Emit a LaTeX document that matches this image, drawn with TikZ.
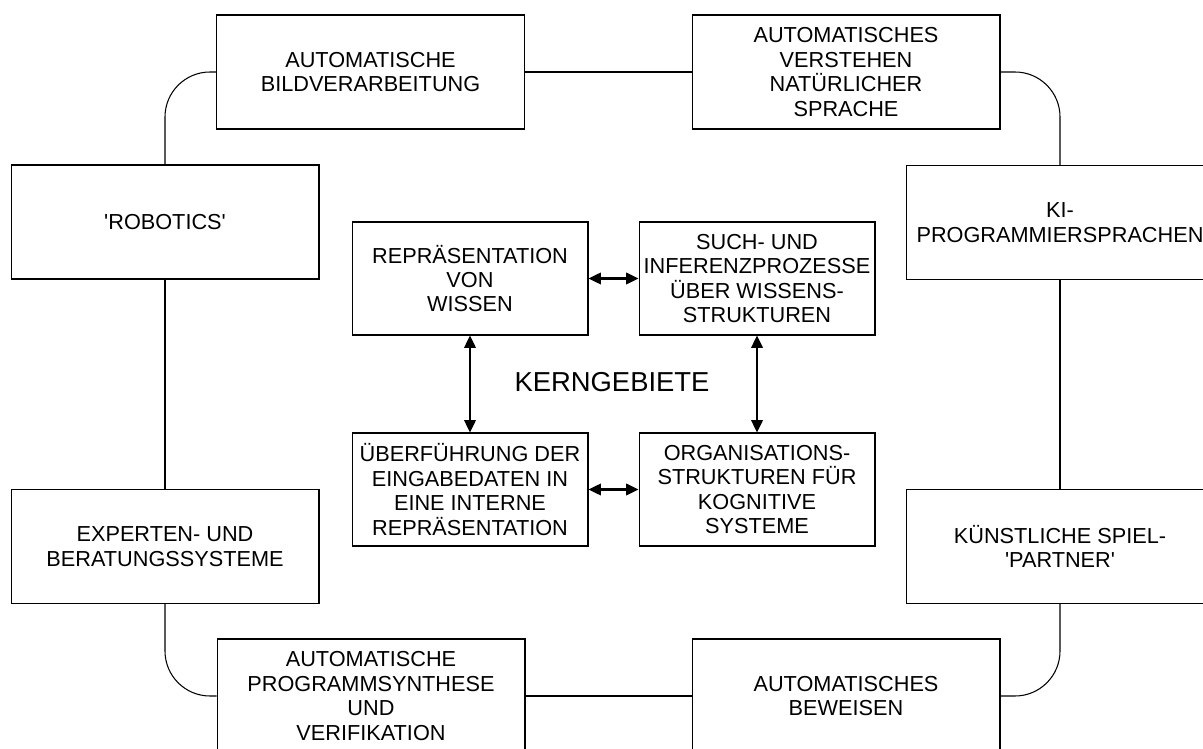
\documentclass[tikz,border=0pt]{standalone}
\usepackage{fontspec}
\setmainfont{Liberation Sans}
\usetikzlibrary{arrows.meta,positioning}

\begin{document}
\begin{tikzpicture}[
    x=0.02cm, y=-0.02cm,
    feld/.style={rectangle, draw, line width=0.6pt, minimum width=6.16cm, minimum height=2.28cm, align=center, font=\fontsize{12.35pt}{13.9pt}\selectfont},
    kern/.style={rectangle, draw, line width=0.6pt, inner xsep=1pt, minimum width=4.72cm, minimum height=2.26cm, align=center, font=\fontsize{12.35pt}{13.9pt}\selectfont},
    verb/.style={line width=0.6pt},
    pfeil/.style={line width=1.2pt, {Triangle[length=7pt,width=6.5pt]}-{Triangle[length=7pt,width=6.5pt]}},
]
    \path[use as bounding box, clip] (0,0) rectangle (1203,749);

    \node[feld] (bild) at (370.5,72) {AUTOMATISCHE\\BILDVERARBEITUNG};
    \node[feld] (sprache) at (846,72) {AUTOMATISCHES\\VERSTEHEN\\NATÜRLICHER\\SPRACHE};
    \node[feld] (robotics) at (165,222) {\textquotesingle ROBOTICS\textquotesingle};
    \node[feld] (kiprog) at (1060,222.5) {KI-\\PROGRAMMIERSPRACHEN};
    \node[feld] (experten) at (165,546.5) {EXPERTEN- UND\\BERATUNGSSYSTEME};
    \node[feld] (spiel) at (1060,546.5) {KÜNSTLICHE SPIEL-\\\textquotesingle PARTNER\textquotesingle};
    \node[feld] (synth) at (371,696) {AUTOMATISCHE\\PROGRAMMSYNTHESE\\UND\\VERIFIKATION};
    \node[feld] (beweis) at (846,696) {AUTOMATISCHES\\BEWEISEN};

    \node[kern] (repr) at (470,278.5) {REPRÄSENTATION\\VON\\WISSEN};
    \node[kern] (such) at (757,278.5) {SUCH- UND\\INFERENZPROZESSE\\ÜBER WISSENS-\\STRUKTUREN};
    \node[kern] (ueber) at (470,489.5) {ÜBERFÜHRUNG DER\\EINGABEDATEN IN\\EINE INTERNE\\REPRÄSENTATION};
    \node[kern] (orga) at (757,489.5) {ORGANISATIONS-\\STRUKTUREN FÜR\\KOGNITIVE\\SYSTEME};
    \node[font=\fontsize{15.6pt}{18pt}\selectfont] (kerngeb) at (612,382) {KERNGEBIETE};

    \draw[verb] (bild.east) -- (sprache.west);
    \draw[verb, rounded corners=0.9cm] (bild.west) -| (robotics.north);
    \draw[verb, rounded corners=0.9cm] (sprache.east) -| (kiprog.north);
    \draw[verb] (robotics) -- (experten);
    \draw[verb] (kiprog) -- (spiel);
    \draw[verb, rounded corners=0.9cm] (experten.south) |- (synth.west);
    \draw[verb, rounded corners=0.9cm] (spiel.south) |- (beweis.east);
    \draw[verb] (synth.east) -- (beweis.west);

    \draw[pfeil] (repr) -- (such);
    \draw[pfeil] (ueber) -- (orga);
    \draw[pfeil] (repr) -- (ueber);
    \draw[pfeil] (such) -- (orga);
\end{tikzpicture}
\end{document}
